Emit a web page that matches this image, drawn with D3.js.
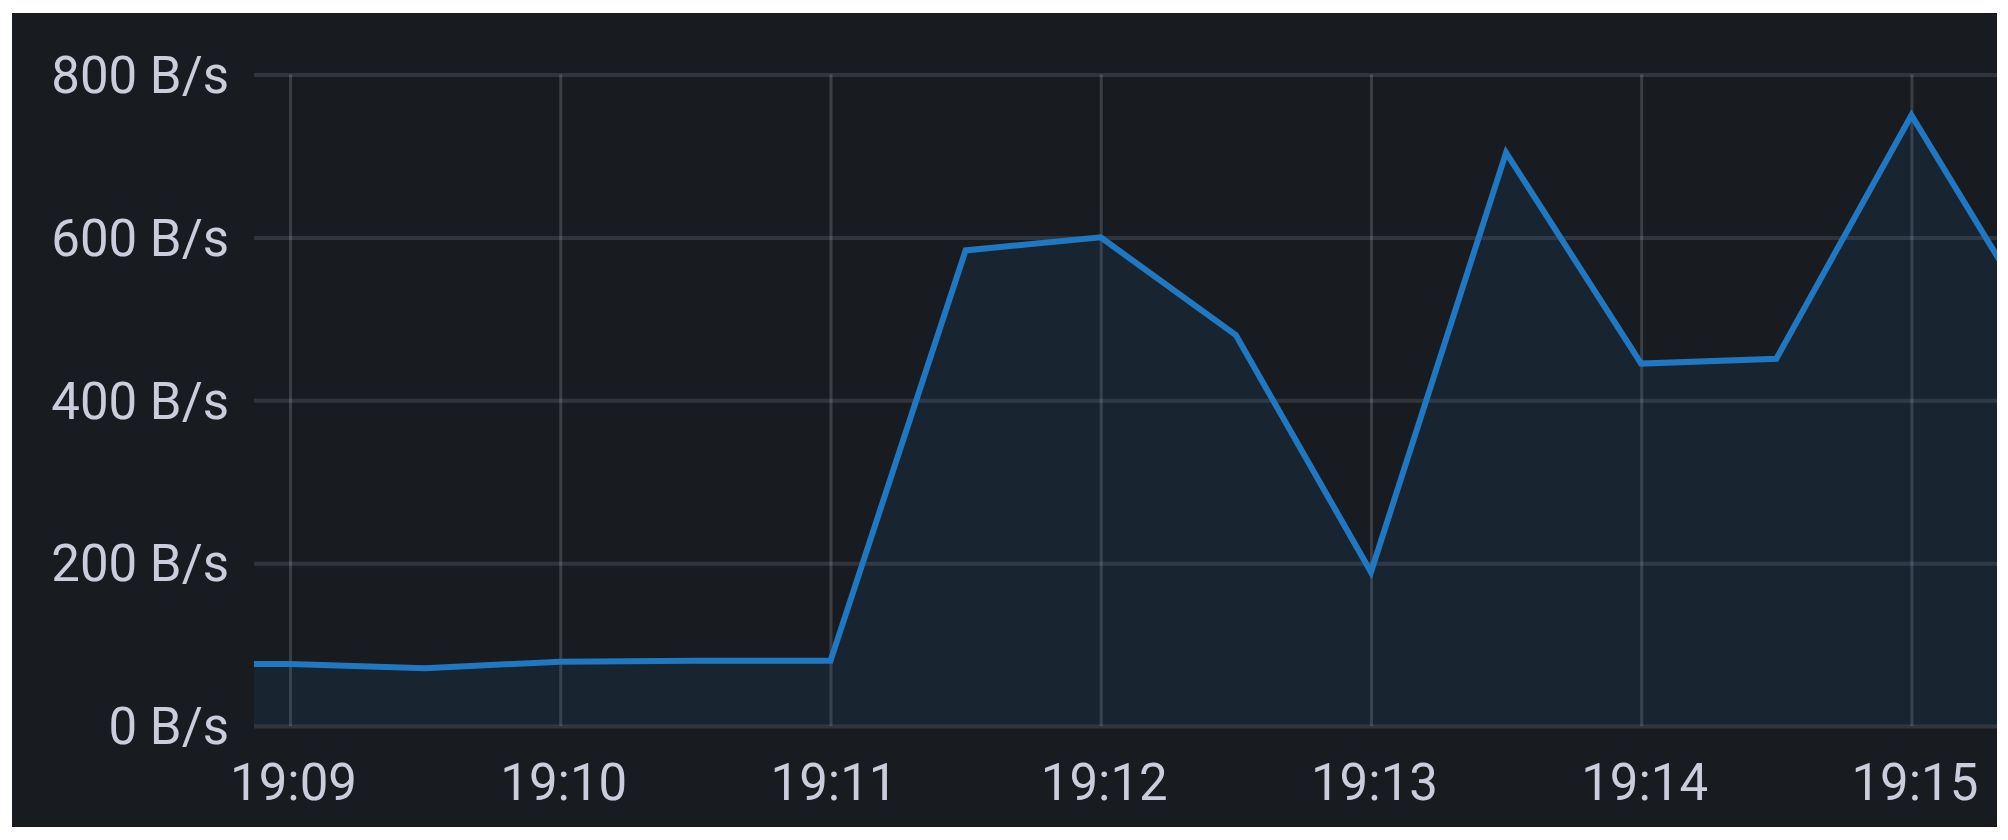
<!DOCTYPE html>
<html>
<head>
<meta charset="utf-8">
<script src="https://cdn.jsdelivr.net/npm/d3@7"></script>
<style>
  html, body { margin: 0; padding: 0; background: #ffffff; }
  svg { display: block; }
</style>
</head>
<body>
<div id="chart"></div>
<script>
// sample times (30 s steps) and rate values
const times = [
  "19:08:30", "19:09:00", "19:09:30", "19:10:00", "19:10:30",
  "19:11:00", "19:11:30", "19:12:00", "19:12:30", "19:13:00",
  "19:13:30", "19:14:00", "19:14:30", "19:15:00", "19:15:30"
];
const rates = [76, 76, 71, 79, 80, 80, 584, 600, 480, 189, 704, 445, 451, 750, 477];

const yTicks = [0, 200, 400, 600, 800];
const xTicks = ["19:09", "19:10", "19:11", "19:12", "19:13", "19:14", "19:15"];
const viewRange = ["19:08:52", "19:15:19"];

const parseTime = (s) => {
  const p = s.split(":").map(Number);
  return new Date(2024, 0, 1, p[0], p[1], p[2] || 0);
};

const data = times.map((t, i) => ({ t: parseTime(t), v: rates[i] }));

const W = 2008, H = 840;
const panel = { x: 12, y: 13, w: 1985, h: 814 };
const plot = { left: 254, right: 1997, top: 74.5, bottom: 726 };

const svg = d3
  .select("#chart")
  .append("svg")
  .attr("width", W)
  .attr("height", H);

svg
  .append("rect")
  .attr("x", panel.x)
  .attr("y", panel.y)
  .attr("width", panel.w)
  .attr("height", panel.h)
  .attr("fill", "#181b1f");

const x = d3
  .scaleTime()
  .domain(viewRange.map(parseTime))
  .range([plot.left, plot.right]);

const y = d3.scaleLinear().domain([0, 800]).range([plot.bottom, plot.top]);

svg
  .append("clipPath")
  .attr("id", "plot-clip")
  .append("rect")
  .attr("x", plot.left)
  .attr("y", 0)
  .attr("width", plot.right - plot.left)
  .attr("height", plot.bottom + 2);

// horizontal grid + y labels
const yAxis = svg
  .append("g")
  .attr("transform", `translate(${plot.left},0)`)
  .call(
    d3
      .axisLeft(y)
      .tickValues(yTicks)
      .tickSize(-(plot.right - plot.left))
      .tickPadding(25)
      .tickFormat((d) => `${d} B/s`)
  );
yAxis.select(".domain").remove();
yAxis
  .selectAll(".tick line")
  .attr("stroke", "rgba(204,204,220,0.15)")
  .attr("stroke-width", 4);
yAxis
  .selectAll(".tick text")
  .attr("fill", "#ccccdc")
  .attr("font-family", "Roboto, sans-serif")
  .attr("font-size", "51px")
  .attr("dy", "0.35em");

// vertical grid + time labels
const xAxis = svg
  .append("g")
  .attr("transform", `translate(0,${plot.bottom})`)
  .call(
    d3
      .axisBottom(x)
      .tickValues(xTicks.map(parseTime))
      .tickSize(-(plot.bottom - plot.top))
      .tickPadding(0)
      .tickFormat(d3.timeFormat("%H:%M"))
  );
xAxis.select(".domain").remove();
xAxis
  .selectAll(".tick line")
  .attr("stroke", "rgba(204,204,220,0.2)")
  .attr("stroke-width", 3);
xAxis
  .selectAll(".tick text")
  .attr("fill", "#ccccdc")
  .attr("font-family", "Roboto, sans-serif")
  .attr("font-size", "51px")
  .attr("y", 74)
  .attr("dy", 0)
  .attr("dx", 3);

const area = d3
  .area()
  .x((d) => x(d.t))
  .y0(y(0))
  .y1((d) => y(d.v));

const line = d3
  .line()
  .x((d) => x(d.t))
  .y((d) => y(d.v));

const series = svg.append("g").attr("clip-path", "url(#plot-clip)");

series
  .append("path")
  .datum(data)
  .attr("d", area)
  .attr("fill", "#1f78c1")
  .attr("fill-opacity", 0.1);

series
  .append("path")
  .datum(data)
  .attr("d", line)
  .attr("fill", "none")
  .attr("stroke", "#1f78c1")
  .attr("stroke-width", 6)
  .attr("stroke-linejoin", "miter");
</script>
</body>
</html>
